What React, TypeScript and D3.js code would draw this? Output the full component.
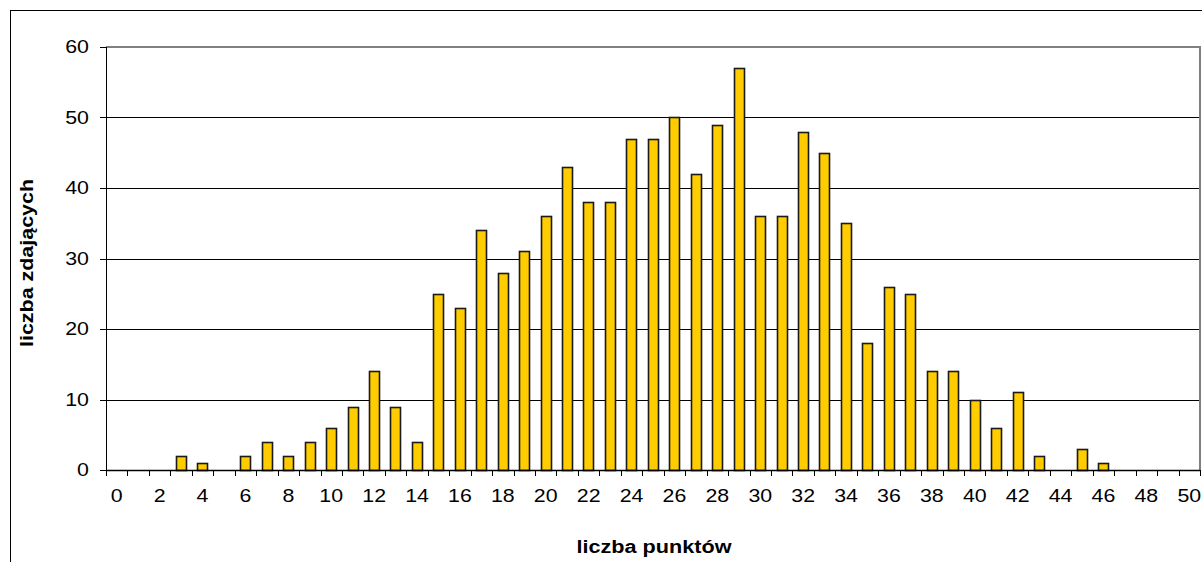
import React, { useEffect, useRef } from "react";
import * as d3 from "d3";

const categories: number[] = d3.range(0, 51);
const counts: number[] = [
  0, 0, 0, 2, 1, 0, 2, 4, 2, 4,
  6, 9, 14, 9, 4, 25, 23, 34, 28, 31,
  36, 43, 38, 38, 47, 47, 50, 42, 49, 57,
  36, 36, 48, 45, 35, 18, 26, 25, 14, 14,
  10, 6, 11, 2, 0, 3, 1, 0, 0, 0, 0,
];
const yTicks: number[] = [0, 10, 20, 30, 40, 50, 60];
const xTickLabels: number[] = categories.filter((c) => c % 2 === 0);
const xTitle = "liczba punktów";
const yTitle = "liczba zdających";

const W = 1202;
const H = 562;
const M = { left: 106, right: 1200, top: 47, bottom: 470 };
const FONT = "'Liberation Sans', Arial, sans-serif";
const NUM_STRETCH = 1.22;

export default function App() {
  const ref = useRef<SVGSVGElement>(null);

  useEffect(() => {
    const svg = d3.select(ref.current);
    svg.selectAll("*").remove();

    const x = d3
      .scaleBand<number>()
      .domain(categories)
      .range([M.left, M.right])
      .paddingInner(0.52)
      .paddingOuter(0.26);
    const band = d3.scaleBand<number>().domain(categories).range([M.left, M.right]);
    const y = d3.scaleLinear().domain([0, 60]).range([M.bottom, M.top]);

    // outer border
    svg
      .append("rect")
      .attr("x", 10.5)
      .attr("y", 10.5)
      .attr("width", W + 20)
      .attr("height", H + 20)
      .attr("fill", "white")
      .attr("stroke", "#000")
      .attr("stroke-width", 1);

    // gridlines
    svg
      .append("g")
      .selectAll("line")
      .data(yTicks.filter((t) => t > 0 && t < 60))
      .join("line")
      .attr("x1", M.left)
      .attr("x2", M.right)
      .attr("y1", (d) => Math.round(y(d)) + 0.5)
      .attr("y2", (d) => Math.round(y(d)) + 0.5)
      .attr("stroke", "#000")
      .attr("stroke-width", 1);

    // plot area top/right border
    svg
      .append("path")
      .attr("d", `M${M.left},${M.top}H${M.right}V${M.bottom}`)
      .attr("fill", "none")
      .attr("stroke", "#808080")
      .attr("stroke-width", 2);

    // bars
    svg
      .append("g")
      .selectAll("rect")
      .data(categories.filter((c) => counts[c] > 0))
      .join("rect")
      .attr("x", (d) => Math.round(x(d)!) + 0.5)
      .attr("y", (d) => Math.round(y(counts[d])) + 0.5)
      .attr("width", Math.round(x.bandwidth()))
      .attr("height", (d) => Math.round(y(0)) - Math.round(y(counts[d])))
      .attr("fill", "#FFCC00")
      .attr("stroke", "#1a1a1a")
      .attr("stroke-width", 1.6);

    // y axis
    const yAxis = svg.append("g");
    yAxis
      .append("line")
      .attr("x1", M.left + 0.5)
      .attr("x2", M.left + 0.5)
      .attr("y1", M.top)
      .attr("y2", M.bottom)
      .attr("stroke", "#000");
    yAxis
      .selectAll("line.tick")
      .data(yTicks)
      .join("line")
      .attr("class", "tick")
      .attr("x1", M.left - 6)
      .attr("x2", M.left)
      .attr("y1", (d) => Math.round(y(d)) + 0.5)
      .attr("y2", (d) => Math.round(y(d)) + 0.5)
      .attr("stroke", "#000");
    yAxis
      .selectAll("text")
      .data(yTicks)
      .join("text")
      .attr("transform", (d) => `translate(89,${y(d)}) scale(${NUM_STRETCH},1)`)
      .attr("dy", "0.36em")
      .attr("text-anchor", "end")
      .attr("font-family", FONT)
      .attr("font-size", 17.5)
      .attr("fill", "#000")
      .text((d) => String(d));

    // x axis
    const xAxis = svg.append("g");
    xAxis
      .append("line")
      .attr("x1", M.left)
      .attr("x2", M.right)
      .attr("y1", M.bottom + 0.5)
      .attr("y2", M.bottom + 0.5)
      .attr("stroke", "#000")
      .attr("stroke-width", 1.5);
    const tickPos = categories.map((c) => band(c)!).concat([M.right]);
    xAxis
      .selectAll("line.tick")
      .data(tickPos)
      .join("line")
      .attr("class", "tick")
      .attr("x1", (d) => Math.round(d) + 0.5)
      .attr("x2", (d) => Math.round(d) + 0.5)
      .attr("y1", M.bottom)
      .attr("y2", M.bottom + 6)
      .attr("stroke", "#000");
    xAxis
      .selectAll("text")
      .data(xTickLabels)
      .join("text")
      .attr(
        "transform",
        (d) => `translate(${band(d)! + band.bandwidth() / 2},502) scale(${NUM_STRETCH},1)`
      )
      .attr("text-anchor", "middle")
      .attr("font-family", FONT)
      .attr("font-size", 17.5)
      .attr("fill", "#000")
      .text((d) => String(d));

    // titles
    svg
      .append("text")
      .attr("x", 654)
      .attr("y", 553)
      .attr("text-anchor", "middle")
      .attr("font-family", FONT)
      .attr("font-size", 17.5)
      .attr("font-weight", "bold")
      .attr("fill", "#000")
      .attr("textLength", 155)
      .attr("lengthAdjust", "spacingAndGlyphs")
      .text(xTitle);
    svg
      .append("text")
      .attr("transform", `translate(33,263) rotate(-90)`)
      .attr("text-anchor", "middle")
      .attr("font-family", FONT)
      .attr("font-size", 17.5)
      .attr("font-weight", "bold")
      .attr("fill", "#000")
      .attr("textLength", 168)
      .attr("lengthAdjust", "spacingAndGlyphs")
      .text(yTitle);
  }, []);

  return (
    <svg
      ref={ref}
      width={W}
      height={H}
      style={{ position: "absolute", left: 0, top: 0, display: "block" }}
    />
  );
}
